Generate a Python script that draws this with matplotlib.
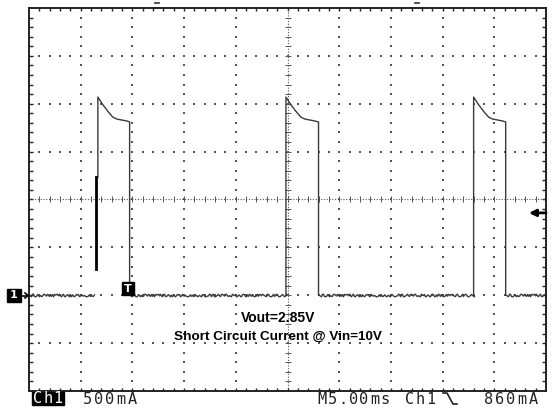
import matplotlib
matplotlib.use('Agg')
import matplotlib.pyplot as plt
import matplotlib.patches as patches
import numpy as np

W, H = 552, 411

# scope settings
t_div = 5.0        # ms / div
i_div = 0.5        # A / div
n_hdiv = 10
n_vdiv = 8
i_center = 1.0     # ground sits 2 div below centre
trig_level = 0.86  # A

# hiccup pulses (ms, A)
t_rise = [6.66, 24.85, 43.0]
t_fall = [9.73, 28.0, 46.1]
pulse_dt = [0.0, 0.48, 0.97, 1.45, 1.84, 2.32, 2.80]
pulse_i = [2.07, 1.99, 1.92, 1.86, 1.84, 1.83, 1.82]
fall_i = 1.81
rise_lo = [1.23, 0.0, 0.0]
base_on = [(0.0, 6.3), (9.73, 24.85), (28.0, 43.0), (46.1, 50.0)]
# leftover stroke on the first rising edge
ghost_t = 6.5
ghost_i = [0.27, 1.23]

fig = plt.figure(figsize=(W / 100, H / 100), dpi=100)
fig.patch.set_facecolor('white')
ax = fig.add_axes([29 / W, 1 - 391 / H, (546 - 29) / W, (391 - 8) / H])
x0, x1 = 0, n_hdiv * t_div
y0, y1 = i_center - n_vdiv / 2 * i_div, i_center + n_vdiv / 2 * i_div
ax.set_xlim(x0, x1)
ax.set_ylim(y0, y1)
ax.set_xticks([])
ax.set_yticks([])
for s in ax.spines.values():
    s.set_linewidth(1.4)
    s.set_color('#222222')

# graticule
gcol = '#555555'
xmaj = np.arange(1, n_hdiv) * t_div
ymaj = y0 + np.arange(1, n_vdiv) * i_div
xmin = np.arange(1, n_hdiv * 5) * t_div / 5
ymin = y0 + np.arange(1, n_vdiv * 5) * i_div / 5
xc = (x0 + x1) / 2
for y in ymaj:
    if abs(y - i_center) > 1e-6:
        ax.scatter(xmin, np.full(len(xmin), y), marker='s', s=0.6, color=gcol, lw=0)
for x in xmaj:
    if abs(x - xc) > 1e-6:
        ax.scatter(np.full(len(ymin), x), ymin, marker='s', s=0.6, color=gcol, lw=0)
ax.axhline(i_center, ls=(0, (1, 1.5)), lw=0.8, color=gcol)
ax.axvline(xc, ls=(0, (1, 1.5)), lw=0.8, color=gcol)
ax.scatter(xmin, np.full(len(xmin), i_center), marker='|', s=18, lw=0.7, color=gcol)
ax.scatter(np.full(len(ymin), xc), ymin, marker='_', s=18, lw=0.7, color=gcol)
# border ticks
ax.scatter(np.full(len(ymin), x0), ymin, marker='_', s=40, lw=1.0, color='#222222')
ax.scatter(np.full(len(ymin), x1), ymin, marker='_', s=40, lw=1.0, color='#222222')
ax.scatter(xmin, np.full(len(xmin), y1), marker='|', s=25, lw=1.0, color='#222222')
ax.scatter(xmin, np.full(len(xmin), y0), marker='|', s=25, lw=1.0, color='#222222')

# trace
tcol = '#3a3a3a'
for a, b in base_on:
    ln, = ax.plot([a, b], [0, 0], color=tcol, lw=1.0)
    ln.set_sketch_params(scale=1.3, length=4, randomness=3)
for tr, tf, lo in zip(t_rise, t_fall, rise_lo):
    xs = [tr] + [tr + d for d in pulse_dt] + [tf, tf]
    ys = [lo] + list(pulse_i) + [fall_i, 0]
    ax.plot(xs, ys, color=tcol, lw=1.0)
ax.plot([ghost_t, ghost_t], ghost_i, color='black', lw=2.0)

# trigger level arrow
ax.annotate('', xy=(0.967, trig_level), xycoords=('axes fraction', 'data'),
            xytext=(1.0, trig_level), textcoords=('axes fraction', 'data'),
            arrowprops=dict(arrowstyle='-|>', lw=2.0, color='black', mutation_scale=10,
                            shrinkA=0, shrinkB=0))


def fx(x):
    return x / W


def fy(y):
    return 1 - y / H


def box(xa, xb, ya, yb):
    fig.patches.append(patches.Rectangle((fx(xa), fy(yb)), (xb - xa) / W, (yb - ya) / H,
                                         transform=fig.transFigure, color='black'))


# ground marker
box(7, 21, 289, 302)
fig.text(fx(14), fy(295.5), '1', color='white', fontsize=8, fontweight='bold',
         ha='center', va='center', family='DejaVu Sans')
fig.lines.append(plt.Line2D([fx(20), fx(28)], [fy(295.5), fy(295.5)], transform=fig.transFigure,
                            color='black', lw=1.2))
fig.lines.append(plt.Line2D([fx(25), fx(28), fx(25)], [fy(293), fy(295.5), fy(298)],
                            transform=fig.transFigure, color='black', lw=1.2))

# trigger point marker
box(122, 134, 282, 295)
fig.text(fx(128), fy(288.5), 'T', color='white', fontsize=8, fontweight='bold',
         ha='center', va='center', family='DejaVu Sans')

# top markers
for mx in [157, 417]:
    fig.lines.append(plt.Line2D([fx(mx - 2), fx(mx + 2)], [fy(3), fy(3)],
                                transform=fig.transFigure, color='#333333', lw=1.2))

# annotation
fig.text(fx(278.5), fy(318), 'Vout=2.85V', ha='center', va='center', fontsize=10,
         fontweight='bold', family='Liberation Sans')
fig.text(fx(278), fy(337), 'Short Circuit Current @ Vin=10V', ha='center', va='center',
         fontsize=9.7, fontweight='bold', family='Liberation Sans')


def mono(x, y, s, pitch, color='#222222'):
    for k, ch in enumerate(s):
        fig.text(fx(x + k * pitch), fy(y), ch, family='DejaVu Sans Mono', fontsize=11,
                 ha='left', va='center', color=color)


box(32, 64, 392, 405)
mono(33, 398.5, 'Ch1', 10.3, color='white')
mono(83, 399, '500mA', 11.2)
mono(317, 399, 'M5.00ms', 10.6)
mono(405, 399, 'Ch1', 10.6)
fig.lines.append(plt.Line2D([fx(443), fx(447), fx(453), fx(457)],
                            [fy(393), fy(393), fy(404), fy(404)],
                            transform=fig.transFigure, color='#222222', lw=1.2))
mono(484, 399, '860mA', 11.2)

plt.savefig('out.png', dpi=100)
